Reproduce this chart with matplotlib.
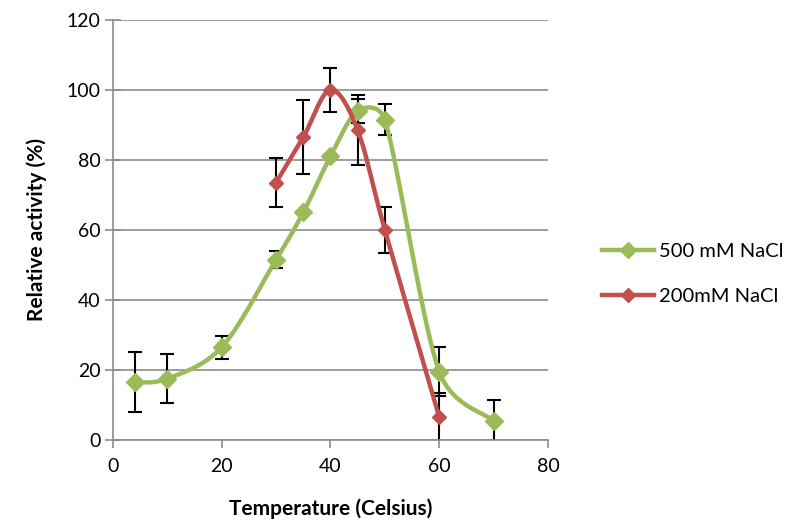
import numpy as np
import matplotlib.pyplot as plt
from matplotlib.lines import Line2D

# data
temp_500 = [4, 10, 20, 30, 35, 40, 45, 50, 60, 70]
act_500 = [16.5, 17.5, 26.5, 51.5, 65, 81, 94, 91.5, 19.5, 5.5]
err_500 = [8.5, 7, 3.3, 2.5, 0, 0, 3.5, 4.5, 7, 6]

temp_200 = [30, 35, 40, 45, 50, 60]
act_200 = [73.5, 86.5, 100, 88.5, 60, 6.5]
err_200 = [7, 10.5, 6.3, 10, 6.5, 7]

green = "#9BBB59"
red = "#C0504D"
FONT = "Lato"


def smooth(xs, ys, n=40, clamp=0.5):
    # Excel-like smoothed line: Catmull-Rom handles (tension 1/6),
    # each handle capped at a share of its segment length.
    # done in screen-like units so x and y count the same
    sxu, syu = 435 / 80, 420 / 120
    p = np.column_stack([np.asarray(xs, float) * sxu, np.asarray(ys, float) * syu])
    m = len(p)
    tang = np.array([(p[min(i + 1, m - 1)] - p[max(i - 1, 0)]) / 6 for i in range(m)])
    t = np.linspace(0, 1, n)[:, None]
    out = []
    for i in range(m - 1):
        p0, p3 = p[i], p[i + 1]
        d = np.linalg.norm(p3 - p0)
        h1, h2 = tang[i].copy(), tang[i + 1].copy()
        for h in (h1, h2):
            L = np.linalg.norm(h)
            if L > clamp * d:
                h *= clamp * d / L
        c1 = p0 + h1
        c2 = p3 - h2
        b = (1 - t) ** 3 * p0 + 3 * (1 - t) ** 2 * t * c1 + 3 * (1 - t) * t ** 2 * c2 + t ** 3 * p3
        out.append(b)
    out = np.vstack(out)
    return out[:, 0] / sxu, out[:, 1] / syu


fig = plt.figure(figsize=(8.06, 5.25), dpi=100)
ax = fig.add_axes([0.140, 0.162, 0.540, 0.800])

ax.errorbar(temp_500, act_500, yerr=err_500, fmt="none", ecolor="black",
            elinewidth=1.5, capsize=5, capthick=1.5, zorder=2)
ax.errorbar(temp_200, act_200, yerr=err_200, fmt="none", ecolor="black",
            elinewidth=1.5, capsize=5, capthick=1.5, zorder=2)

sx, sy = smooth(temp_500, act_500)
ax.plot(sx, sy, color=green, lw=3.2, zorder=3, solid_capstyle="round")
ax.plot(temp_500, act_500, "D", color=green, ms=9, zorder=4)

sx, sy = smooth(temp_200, act_200)
ax.plot(sx, sy, color=red, lw=3.2, zorder=5, solid_capstyle="round")
ax.plot(temp_200, act_200, "D", color=red, ms=7, zorder=6)

ax.set_xlim(0, 80)
ax.set_ylim(0, 120)
ax.set_xticks(range(0, 81, 20))
ax.set_yticks(range(0, 121, 20))
ax.yaxis.grid(True, color="#8c8c8c", lw=1.2)
ax.set_axisbelow(True)
for s in ["top", "right"]:
    ax.spines[s].set_visible(False)
for s in ["left", "bottom"]:
    ax.spines[s].set_color("#8c8c8c")
    ax.spines[s].set_linewidth(1.2)
ax.tick_params(axis="x", colors="#8c8c8c", labelcolor="black",
               labelsize=14, length=6, width=1.2, direction="out", pad=7)
ax.tick_params(axis="y", colors="#8c8c8c", labelcolor="black",
               labelsize=14, length=12, width=1.2, direction="inout", pad=3)
for lab in ax.get_xticklabels() + ax.get_yticklabels():
    lab.set_family(FONT)

ax.set_xlabel("Temperature (Celsius)", fontsize=15, fontweight="bold",
              family=FONT, labelpad=17)
ax.set_ylabel("Relative activity (%)", fontsize=15, fontweight="bold",
              family=FONT, labelpad=14)

handles = [Line2D([], [], color=green, lw=3.2, marker="D", ms=8),
           Line2D([], [], color=red, lw=3.2, marker="D", ms=7)]
fig.legend(handles, ["500 mM NaCl", "200mM NaCl"], loc="center left",
           bbox_to_anchor=(0.724, 0.478), frameon=False, handlelength=2.6,
           labelspacing=1.35, handletextpad=0.25,
           prop={"family": FONT, "size": 14.5})

fig.savefig("out.png", dpi=100)
